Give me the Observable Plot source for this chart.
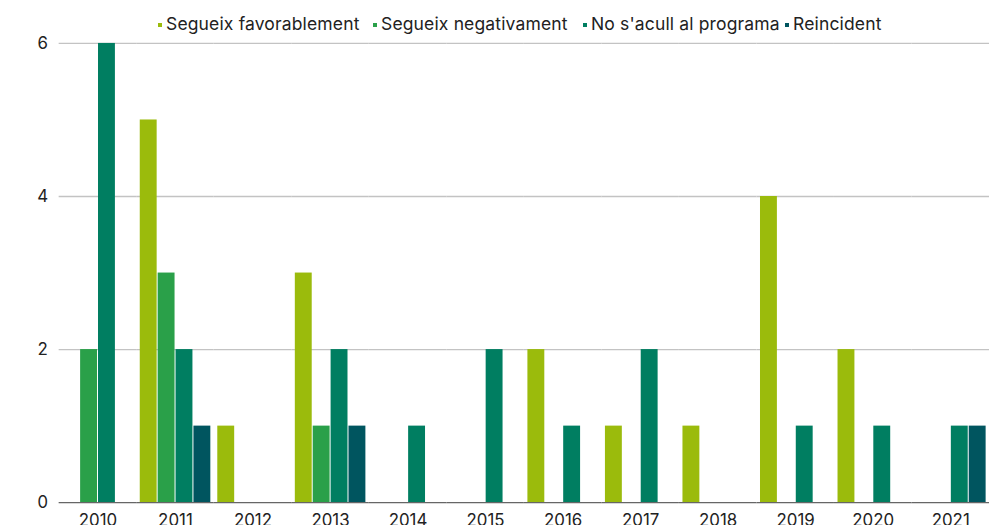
<!DOCTYPE html>
<html>
<head>
<meta charset="utf-8">
<script src="https://cdn.jsdelivr.net/npm/d3@7"></script>
<script src="https://cdn.jsdelivr.net/npm/@observablehq/plot@0.6"></script>
<style>
  html, body { margin: 0; padding: 0; overflow: hidden; background: #fff; width: 990px; height: 525px; }
  body { font-family: Inter, "Liberation Sans", sans-serif; color: #222; }
  #legend { position: relative; height: 33px; font-size: 17.5px; letter-spacing: 0.15px; }
  .item { position: absolute; top: 14px; line-height: 20px; white-space: nowrap; display: flex; align-items: center; }
  .sw { width: 4px; height: 4px; margin-right: 4px; margin-top: 1px; }
  #chart svg { display: block; overflow: hidden; }
</style>
</head>
<body>
<div id="legend"></div>
<div id="chart"></div>
<script>
const years = ["2010","2011","2012","2013","2014","2015","2016","2017","2018","2019","2020","2021"];
const series = ["Segueix favorablement","Segueix negativament","No s'acull al programa","Reincident"];
const colors = ["#9bbb0c","#2aa049","#007e61","#00555f"];
const favorablement = [0,5,1,3,0,0,2,1,1,4,2,0];
const negativament  = [2,3,0,1,0,0,0,0,0,0,0,0];
const noAcull       = [6,2,0,2,1,2,1,2,0,1,1,1];
const reincident    = [0,1,0,1,0,0,0,0,0,0,0,1];
const yTicks = [0,2,4,6];
const legendLeft = [158,373,583,785];

const valueSets = [favorablement, negativament, noAcull, reincident];
const data = years.flatMap((yr, i) => series.map((s, j) => ({year: yr, series: s, value: valueSets[j][i]})));

const legend = document.getElementById("legend");
series.forEach((s, j) => {
  const it = document.createElement("div");
  it.className = "item";
  it.style.left = legendLeft[j] + "px";
  const sw = document.createElement("span");
  sw.className = "sw";
  sw.style.background = colors[j];
  const tx = document.createElement("span");
  tx.textContent = s;
  it.appendChild(sw); it.appendChild(tx);
  legend.appendChild(it);
});

const chart = Plot.plot({
  width: 996,
  height: 500,
  marginLeft: 57.4,
  marginRight: 0,
  marginTop: 10,
  marginBottom: 28,
  style: {fontFamily: "Inter, 'Liberation Sans', sans-serif", fontSize: "17px", color: "#222", background: "#fff"},
  fx: {domain: years, padding: 0, axis: "bottom", tickSize: 0, tickPadding: 11, label: null},
  x: {domain: series, paddingInner: 0.05, paddingOuter: 0.17, axis: null},
  y: {domain: [0, 6], ticks: yTicks, tickFormat: "d", tickSize: 0, tickPadding: 11, label: null},
  color: {domain: series, range: colors},
  marks: [
    Plot.ruleY(yTicks.filter(d => d > 0), {stroke: "#c3c3c3", strokeWidth: 1.3}),
    Plot.barY(data, {fx: "year", x: "series", y: "value", fill: "series"}),
    Plot.ruleY([0], {stroke: "#666", strokeWidth: 1.3})
  ]
});
document.getElementById("chart").appendChild(chart);
</script>
</body>
</html>
